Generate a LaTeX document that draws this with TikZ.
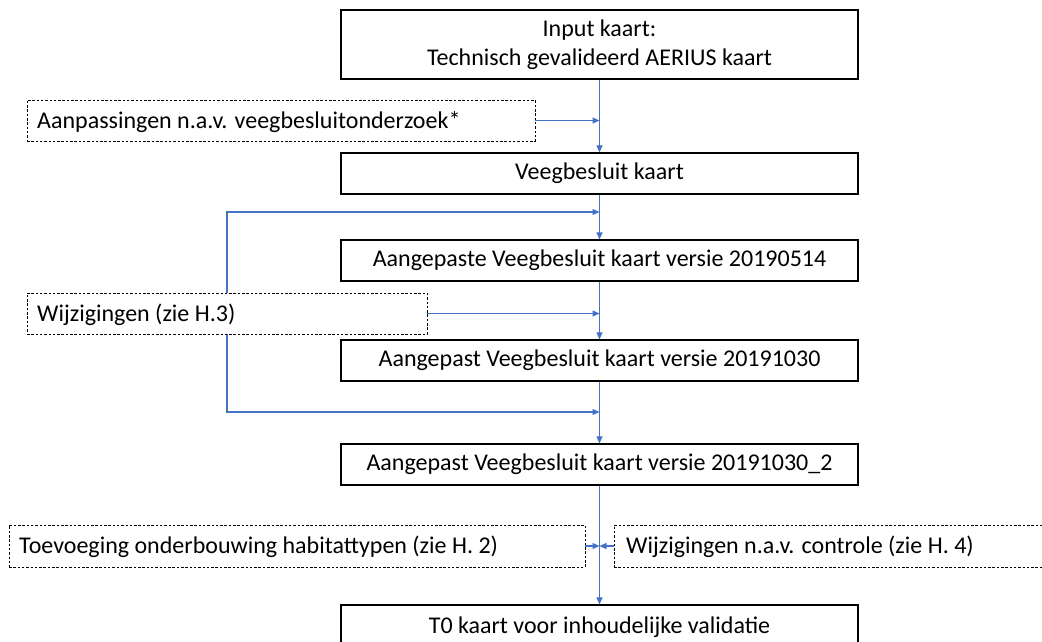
\documentclass[tikz,border=0pt]{standalone}
\usepackage{fontspec}
\setmainfont{Carlito}
\usetikzlibrary{arrows.meta,backgrounds}
\definecolor{flowblue}{RGB}{68,114,196}
\tikzset{
  mainbox/.style={draw=black, line width=1.2pt, fill=white, minimum width=517pt, inner sep=0pt, align=center, font=\fontsize{24}{29}\selectfont},
  sidebox/.style={draw=black, line width=0.9pt, dash pattern=on 2.5pt off 1.8pt, fill=white, inner sep=0pt},
  flow/.style={draw=flowblue, line width=1.1pt, -{Triangle[length=7pt,width=6pt]}},
  lbl/.style={anchor=west, inner sep=0pt, font=\fontsize{24}{29}\selectfont}
}
\begin{document}
\begin{tikzpicture}[x=1pt,y=-1pt]
\clip (0,0) rectangle (1042,641);
% main boxes
\node[mainbox, minimum height=69pt] (b1) at (599.5,44.5) {Input kaart:\\Technisch gevalideerd AERIUS kaart};
\node[mainbox, minimum height=41pt] (b2) at (599.5,173.5) {Veegbesluit kaart};
\node[mainbox, minimum height=41pt] (b3) at (599.5,260.5) {Aangepaste Veegbesluit kaart versie 20190514};
\node[mainbox, minimum height=41pt] (b4) at (599.5,360.5) {Aangepast Veegbesluit kaart versie 20191030};
\node[mainbox, minimum height=41pt] (b5) at (599.5,464.5) {Aangepast Veegbesluit kaart versie 20191030\_2};
\node[mainbox, minimum height=50pt] (b6) at (599.5,630) {};
\node[inner sep=0pt, font=\fontsize{24}{29}\selectfont] (t6) at (599.5,627) {T0 kaart voor inhoudelijke validatie};
% side boxes
\node[sidebox, minimum width=508pt, minimum height=41pt] (sa) at (281,120.5) {};
\node[lbl] (la) at (37,122) {Aanpassingen n.a.v. veegbesluitonderzoek*};
\node[sidebox, minimum width=400pt, minimum height=41pt] (sb) at (227,313.5) {};
\node[lbl] (lb) at (37,315) {Wijzigingen (zie H.3)};
\node[sidebox, minimum width=576pt, minimum height=42pt] (sc) at (297,546) {};
\node[lbl] (lc) at (19,547) {Toevoeging onderbouwing habitattypen (zie H. 2)};
\node[sidebox, minimum width=520pt, minimum height=42pt] (sd) at (874,546) {};
\node[lbl] (ld) at (626,547) {Wijzigingen n.a.v. controle (zie H. 4)};
% junction coordinates
\coordinate (j1) at (599.5,212);
\coordinate (j3) at (599.5,412);
\begin{scope}[on background layer]
\fill[white] (0,0) rectangle (1042,641);
\draw[flow] (b1) -- (b2);
\draw[flow] (b2) -- (b3);
\draw[flow] (b3) -- (b4);
\draw[flow] (b4) -- (b5);
\draw[flow] (b5) -- (b6);
\draw[flow] (sa.east) -- (sa.east -| b1.south);
\draw[flow] (sb.east) -- (sb.east -| b1.south);
\draw[flow] (sb.north) |- (j1);
\draw[flow] (sb.south) |- (j3);
\draw[flow] (sc.east) -- (sc.east -| b1.south);
\draw[flow] (sd.west) -- (sd.west -| b1.south);
\end{scope}
\end{tikzpicture}
\end{document}
